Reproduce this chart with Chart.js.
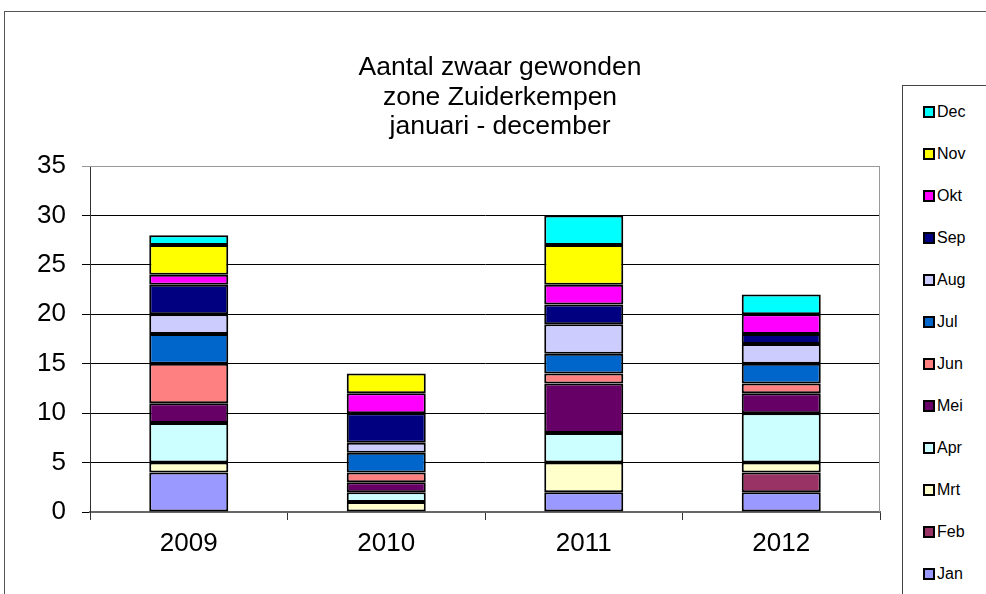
<!DOCTYPE html>
<html>
<head>
<meta charset="utf-8">
<script src="https://cdn.jsdelivr.net/npm/chart.js@4.4.1/dist/chart.umd.min.js"></script>
<style>
  html, body { margin: 0; padding: 0; background: #fff; }
  #wrap { position: relative; width: 986px; height: 594px; overflow: hidden; font-family: Arial, "Liberation Sans", sans-serif; }
  #frame { position: absolute; left: 4px; top: 11px; width: 1000px; height: 600px; border: 1px solid #555; }
  #title { position: absolute; left: 0; top: 52px; width: 1000px; text-align: center; font-size: 26.5px; line-height: 29.5px; color: #000; }
  #legend { position: absolute; left: 902px; top: 85px; width: 120px; height: 520px; border: 1px solid #444; background: #fff; }
  .item { position: absolute; left: 20px; height: 18px; line-height: 18px; font-size: 16px; color: #000; white-space: nowrap; }
  .item span { display: inline-block; width: 8px; height: 8px; border: 2px solid #000; margin-right: 2px; vertical-align: -1px; }
  canvas { position: absolute; left: 0; top: 0; }
</style>
</head>
<body>
<div id="wrap">
  <div id="frame"></div>
  <canvas id="chart" width="986" height="594"></canvas>
  <div id="title">Aantal zwaar gewonden<br>zone Zuiderkempen<br>januari - december</div>
  <div id="legend"></div>
</div>
<script>
// Data
const years = ['2009', '2010', '2011', '2012'];
const months = ['Jan', 'Feb', 'Mrt', 'Apr', 'Mei', 'Jun', 'Jul', 'Aug', 'Sep', 'Okt', 'Nov', 'Dec'];
const jan = [4, 0, 2, 2];
const feb = [0, 0, 0, 2];
const mrt = [1, 1, 3, 1];
const apr = [4, 1, 3, 5];
const mei = [2, 1, 5, 2];
const jun = [4, 1, 1, 1];
const jul = [3, 2, 2, 2];
const aug = [2, 1, 3, 2];
const sep = [3, 3, 2, 1];
const okt = [1, 2, 2, 2];
const nov = [3, 2, 4, 0];
const dec = [1, 0, 3, 2];
const yTicks = [0, 5, 10, 15, 20, 25, 30, 35];

const monthColors = ['#9999FF', '#993366', '#FFFFCC', '#CCFFFF', '#660066', '#FF8080',
                     '#0066CC', '#CCCCFF', '#000080', '#FF00FF', '#FFFF00', '#00FFFF'];
const series = [jan, feb, mrt, apr, mei, jun, jul, aug, sep, okt, nov, dec];

// Gray border on top and right of plot area
const plotBorder = {
    id: 'plotBorder',
    beforeDatasetsDraw(chart) {
        const { ctx, chartArea: a } = chart;
        ctx.save();
        ctx.strokeStyle = '#999';
        ctx.lineWidth = 1;
        ctx.beginPath();
        ctx.moveTo(a.left, a.top + 0.5);
        ctx.lineTo(a.right - 0.5, a.top + 0.5);
        ctx.lineTo(a.right - 0.5, a.bottom);
        ctx.stroke();
        ctx.restore();
    }
};

const ctx = document.getElementById('chart').getContext('2d');
const chart = new Chart(ctx, {
    type: 'bar',
    data: {
        labels: years,
        datasets: series.map((values, i) => ({
            label: months[i],
            data: values,
            backgroundColor: monthColors[i],
            borderColor: '#000',
            borderWidth: 2,
            borderSkipped: false,
            barPercentage: 0.4,
            categoryPercentage: 1
        }))
    },
    options: {
        responsive: false,
        animation: false,
        layout: { padding: { top: 166, right: 106, left: 0, bottom: 0 } },
        plugins: {
            title: { display: false },
            legend: { display: false },
            tooltip: { enabled: false }
        },
        scales: {
            x: {
                stacked: true,
                grid: { drawOnChartArea: false, tickLength: 8, color: '#333', offset: true },
                border: { color: '#666', width: 2 },
                ticks: { color: '#000', font: { family: 'Arial, "Liberation Sans"', size: 26 }, padding: 8 },
                afterFit: s => { s.height = 82; }
            },
            y: {
                stacked: true,
                min: 0,
                max: 35,
                afterBuildTicks: s => { s.ticks = yTicks.map(v => ({ value: v })); },
                grid: {
                    tickLength: 8,
                    color: c => (c.tick && c.tick.value === 35 ? '#999' : '#000')
                },
                border: { color: '#333', width: 1 },
                ticks: { color: '#000', font: { family: 'Arial, "Liberation Sans"', size: 26 }, padding: 16 },
                afterFit: s => { s.width = 90; }
            }
        }
    },
    plugins: [plotBorder]
});

// Legend, reversed like the stack
const legend = document.getElementById('legend');
months.slice().reverse().forEach((m, i) => {
    const idx = months.length - 1 - i;
    const el = document.createElement('div');
    el.className = 'item';
    el.style.top = (111 - 85 - 9 + i * 42) + 'px';
    el.innerHTML = '<span style="background:' + monthColors[idx] + '"></span>' + m;
    legend.appendChild(el);
});
</script>
</body>
</html>
